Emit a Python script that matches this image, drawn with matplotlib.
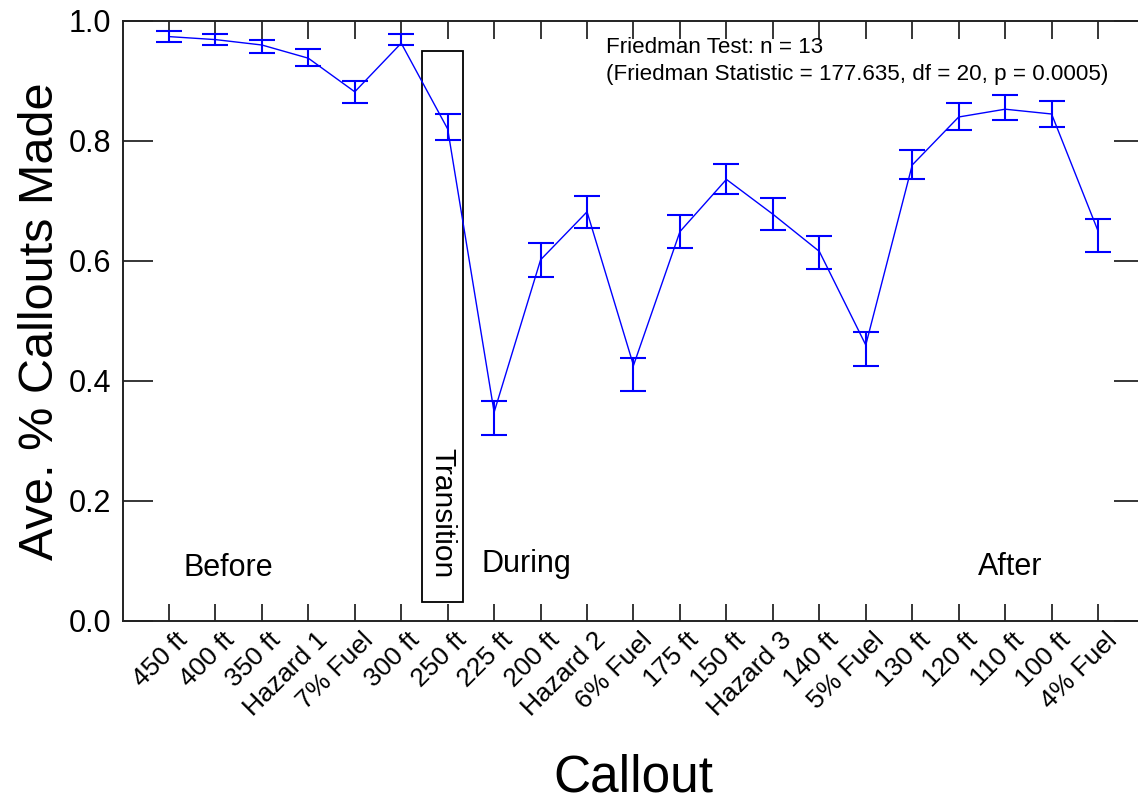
import matplotlib
matplotlib.use("Agg")
import matplotlib.pyplot as plt
from matplotlib.patches import Rectangle
import numpy as np

plt.rcParams['font.family'] = ['Liberation Sans', 'DejaVu Sans']

categories = ['450 ft', '400 ft', '350 ft', 'Hazard 1', '7% Fuel', '300 ft', '250 ft',
              '225 ft', '200 ft', 'Hazard 2', '6% Fuel', '175 ft', '150 ft', 'Hazard 3',
              '140 ft', '5% Fuel', '130 ft', '120 ft', '110 ft', '100 ft', '4% Fuel']
means = [0.974, 0.969, 0.960, 0.938, 0.882, 0.963, 0.820, 0.348, 0.602, 0.682, 0.426,
         0.649, 0.736, 0.678, 0.616, 0.460, 0.760, 0.840, 0.853, 0.845, 0.650]
upper = [0.984, 0.978, 0.968, 0.953, 0.900, 0.978, 0.845, 0.367, 0.630, 0.708, 0.439,
         0.677, 0.761, 0.705, 0.642, 0.481, 0.785, 0.863, 0.876, 0.866, 0.670]
lower = [0.965, 0.960, 0.946, 0.925, 0.863, 0.960, 0.801, 0.310, 0.574, 0.655, 0.383,
         0.621, 0.711, 0.652, 0.587, 0.425, 0.736, 0.819, 0.835, 0.823, 0.615]
yticks = [0.0, 0.2, 0.4, 0.6, 0.8, 1.0]

fig = plt.figure(figsize=(11.38, 8.06), dpi=100)
ax = fig.add_axes([122.5 / 1138, 1 - 621 / 806, 1022 / 1138, 600 / 806])

x = np.arange(len(categories))
m = np.array(means)
yerr = [m - np.array(lower), np.array(upper) - m]
ax.errorbar(x, m, yerr=yerr, fmt='-', color='#0000ff', lw=1.0, elinewidth=1.5,
            capsize=9.7, capthick=1.5, zorder=3)

ax.add_patch(Rectangle((5.44, 0.032), 0.89, 0.918, fill=False, edgecolor='black',
                       lw=1.3, zorder=2))
ax.text(5.88, 0.18, 'Transition', rotation=270, ha='center', va='center', fontsize=21.5)
ax.text(1.27, 0.075, 'Before', ha='center', va='baseline', fontsize=22)
ax.text(7.7, 0.082, 'During', ha='center', va='baseline', fontsize=22)
ax.text(18.1, 0.077, 'After', ha='center', va='baseline', fontsize=22)
ax.text(9.41, 0.974, 'Friedman Test: n = 13\n(Friedman Statistic = 177.635, df = 20, p = 0.0005)',
        ha='left', va='top', fontsize=16.1, linespacing=1.4)

ax.set_xlim(-1, 21)
ax.set_ylim(0, 1.0)
# major ticks carry the tick marks; labels sit on slightly offset minor ticks
ax.set_xticks(x)
ax.set_xticklabels([])
ax.set_xticks(x + 0.14, minor=True)
ax.set_xticklabels(categories, minor=True, rotation=45, ha='right',
                   rotation_mode='anchor', fontsize=19)
ax.set_yticks(yticks)
ax.set_yticklabels([f'{v:.1f}' for v in yticks], fontsize=22)
ax.tick_params(axis='x', which='major', direction='in', length=12.6, width=1.1,
               top=True, bottom=True)
ax.tick_params(axis='x', which='minor', length=0, top=False, bottom=True, pad=5)
ax.tick_params(axis='y', direction='in', length=21.6, width=1.1, left=True, right=True, pad=8)
for s in ax.spines.values():
    s.set_linewidth(1.4)
    s.set_color('#222222')

ax.set_xlabel('Callout', fontsize=37)
ax.xaxis.set_label_coords(0.5, -0.22)
ax.set_ylabel('Ave. % Callouts Made', fontsize=35)
ax.yaxis.set_label_coords(-0.058, 0.5)

fig.savefig('out.png', dpi=100)
